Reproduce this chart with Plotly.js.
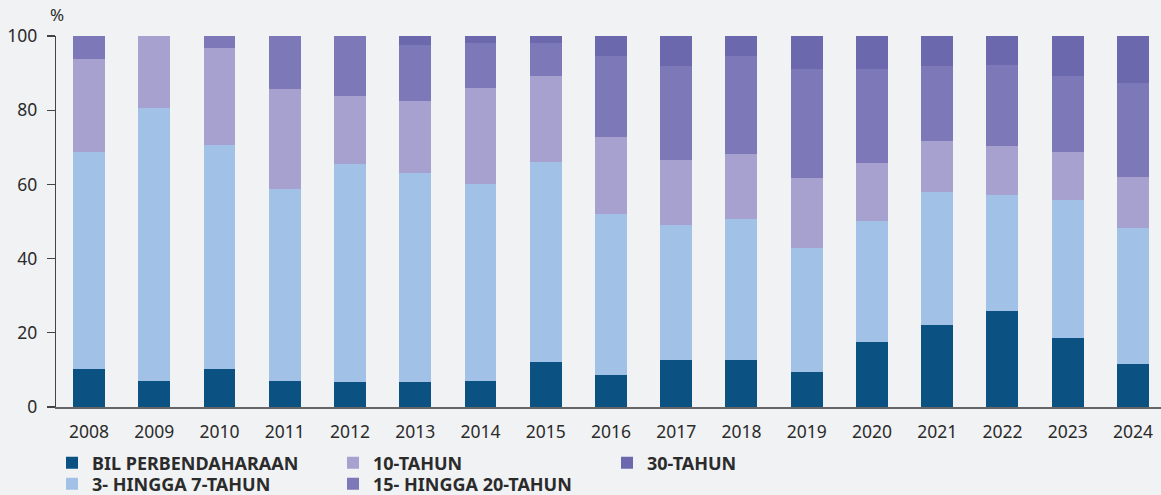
<!DOCTYPE html>
<html>
<head>
<meta charset="utf-8">
<script src="https://cdn.plot.ly/plotly-3.0.1.min.js"></script>
<style>
html,body{margin:0;padding:0;background:#f1f2f4;}
#chart{width:1161px;height:495px;}
</style>
</head>
<body>
<div id="chart"></div>
<script>
const years = ["2008","2009","2010","2011","2012","2013","2014","2015","2016","2017","2018","2019","2020","2021","2022","2023","2024"];
const seriesNames = ["BIL PERBENDAHARAAN","3- HINGGA 7-TAHUN","10-TAHUN","15- HINGGA 20-TAHUN","30-TAHUN"];
const bilPerbendaharaan = [10.3,7.0,10.3,7.0,6.7,6.7,7.0,12.1,8.6,12.7,12.7,9.4,17.5,22.1,25.9,18.6,11.6];
const hingga3to7 = [58.3,73.5,60.2,51.8,58.7,56.5,53.2,54.0,43.5,36.4,38.0,33.5,32.7,35.9,31.3,37.3,36.7];
const tahun10 = [25.3,19.5,26.4,26.8,18.5,19.4,25.9,23.0,20.8,17.6,17.6,18.9,15.7,13.8,13.2,12.9,13.8];
const hingga15to20 = [6.1,0,3.0,14.4,16.0,15.1,11.9,8.9,21.8,25.1,26.4,29.2,25.1,20.2,21.9,20.3,25.3];
const tahun30 = [0,0,0,0,0,2.3,1.9,1.9,5.2,8.1,5.2,9.0,9.0,7.9,7.6,10.8,12.6];
const yTicks = [0,20,40,60,80,100];

const colors = ["#0b5282","#a2c1e6","#a7a1cf","#7d79b8","#6c68ae"];
const values = [bilPerbendaharaan,hingga3to7,tahun10,hingga15to20,tahun30];
const legendIds = ["legend","legend2","legend3","legend4","legend5"];

const traces = values.map((v,i)=>({
  type:"bar",
  x:years,
  y:v,
  name:seriesNames[i],
  marker:{color:colors[i],line:{width:0}},
  width:0.49,
  legend:legendIds[i],
  hoverinfo:"x+y+name"
}));

const tickFont = {family:"Noto Sans, sans-serif",size:17.5,color:"#2b2b2b"};
const legFont = {family:"Noto Sans, sans-serif",size:18,color:"#2b2b2b",weight:700};
const legBase = {orientation:"v",xref:"container",yref:"container",yanchor:"middle",xanchor:"left",
  font:legFont,bgcolor:"rgba(0,0,0,0)",borderwidth:0,itemwidth:30,tracegroupgap:0,itemclick:false,itemdoubleclick:false};
const col1 = 52/1161, col2 = 333/1161, col3 = 607/1161;
const row1 = 1-463/495, row2 = 1-484/495;

const layout = {
  width:1161,height:495,
  paper_bgcolor:"#f1f2f4",plot_bgcolor:"#f1f2f4",
  margin:{l:56,r:0,t:36,b:88,pad:0,autoexpand:false},
  barmode:"stack",
  showlegend:true,
  xaxis:{type:"category",range:[-0.506,16.43],showline:true,linecolor:"#666666",linewidth:2,
    ticks:"",showgrid:false,zeroline:false,tickfont:tickFont,ticklabelstandoff:8,tickangle:0,fixedrange:true},
  yaxis:{range:[0,100],tickvals:yTicks,showline:true,linecolor:"#444444",linewidth:1.3,
    ticks:"outside",ticklen:8,tickwidth:1.3,tickcolor:"#444444",showgrid:false,zeroline:false,
    tickfont:tickFont,ticklabelstandoff:6,fixedrange:true},
  yaxis2:{range:[0,100],tickvals:yTicks,overlaying:"y",side:"left",showline:false,
    ticks:"inside",ticklen:9,tickwidth:1.3,tickcolor:"#444444",showgrid:false,zeroline:false,
    showticklabels:false,fixedrange:true},
  legend:Object.assign({},legBase,{x:col1,y:row1}),
  legend2:Object.assign({},legBase,{x:col1,y:row2}),
  legend3:Object.assign({},legBase,{x:col2,y:row1}),
  legend4:Object.assign({},legBase,{x:col2,y:row2}),
  legend5:Object.assign({},legBase,{x:col3,y:row1}),
  annotations:[{text:"%",xref:"paper",yref:"paper",x:0,y:1,xshift:1,yshift:22,showarrow:false,
    font:{family:"Noto Sans, sans-serif",size:17,color:"#2b2b2b"},xanchor:"center",yanchor:"middle"}]
};

Plotly.newPlot("chart",traces,layout,{displayModeBar:false,staticPlot:true});
</script>
</body>
</html>
